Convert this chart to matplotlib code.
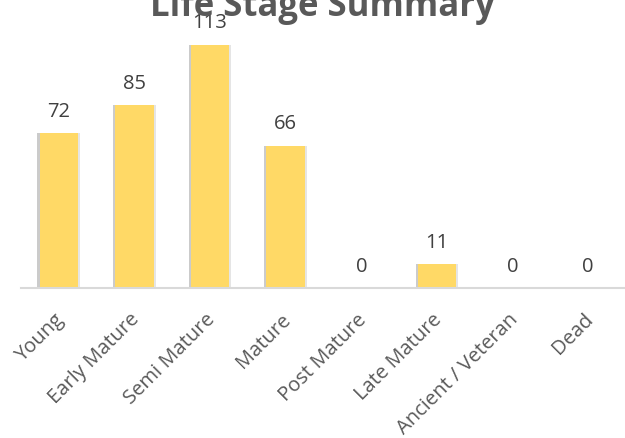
import matplotlib
matplotlib.use("Agg")
import matplotlib.pyplot as plt
import matplotlib.patheffects as pe
import matplotlib.transforms as mtransforms

stages = ["Young", "Early Mature", "Semi Mature", "Mature", "Post Mature",
          "Late Mature", "Ancient / Veteran", "Dead"]
counts = [72, 85, 113, 66, 0, 11, 0, 0]

plt.rcParams['font.family'] = ['Open Sans', 'DejaVu Sans']

fig = plt.figure(figsize=(6.25, 4.39), dpi=100)
ax = fig.add_axes([21 / 625, 150 / 439, 605 / 625, 269 / 439])

x = range(len(stages))
bars = ax.bar(x, counts, width=0.51, color='#FFD966', zorder=3)
for b in bars:
    b.set_path_effects([pe.SimplePatchShadow(offset=(-1.5, 0), shadow_rgbFace='#999999', alpha=0.5),
                        pe.SimplePatchShadow(offset=(1.5, 0), shadow_rgbFace='#cccccc', alpha=0.5),
                        pe.Normal()])

for i, v in enumerate(counts):
    ax.annotate(str(v), (i, v), xytext=(0, 9), textcoords='offset points',
                ha='center', va='bottom', fontsize=14.5, color='#404040')

ax.set_xlim(-0.5, len(stages) - 0.5)
ax.set_ylim(0, 125)
ax.set_yticks([])
ax.set_xticks(list(x))
ax.set_xticklabels(stages, rotation=45, ha='right', va='top', rotation_mode='anchor',
                   fontsize=14.5, color='#595959')
ax.tick_params(axis='x', length=0, pad=15)
# nudge labels a bit left, like the original
shift = mtransforms.ScaledTranslation(-5 / 100, 0, fig.dpi_scale_trans)
for lbl in ax.get_xticklabels():
    lbl.set_transform(lbl.get_transform() + shift)
for s in ['top', 'right', 'left']:
    ax.spines[s].set_visible(False)
ax.spines['bottom'].set_color('#d9d9d9')
ax.spines['bottom'].set_linewidth(1.5)
ax.spines['bottom'].set_zorder(4)

fig.text(322 / 625, 1 - 16 / 439, "Life Stage Summary", ha='center', va='baseline',
         fontsize=25, fontweight='bold', color='#595959')

fig.savefig("out.png", dpi=100)
